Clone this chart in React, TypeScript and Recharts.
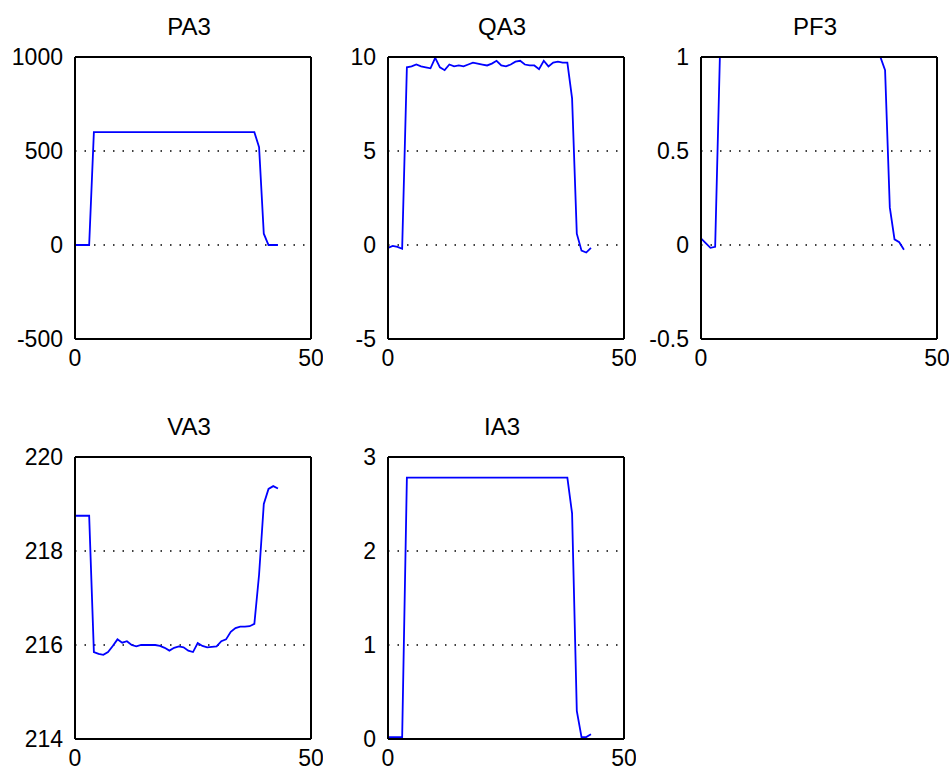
import { LineChart, Line, XAxis, YAxis, CartesianGrid } from 'recharts';

// sample times (s)
const times = [
  0, 1, 2, 3, 4, 5, 6, 7, 8, 9, 10, 11, 12, 13, 14, 15, 16, 17, 18, 19, 20, 21,
  22, 23, 24, 25, 26, 27, 28, 29, 30, 31, 32, 33, 34, 35, 36, 37, 38, 39, 40, 41, 42, 43,
];

const pa3 = [
  0, 0, 0, 0, 600, 600, 600, 600, 600, 600,
  600, 600, 600, 600, 600, 600, 600, 600, 600, 600,
  600, 600, 600, 600, 600, 600, 600, 600, 600, 600,
  600, 600, 600, 600, 600, 600, 600, 600, 600,
  520, 60, 0, 0, 0,
];

const qa3 = [
  -0.15, -0.05, -0.1, -0.2, 9.45, 9.5, 9.6, 9.5, 9.45, 9.4,
  9.95, 9.45, 9.3, 9.6, 9.5, 9.55, 9.5, 9.6, 9.7, 9.65,
  9.6, 9.55, 9.65, 9.8, 9.55, 9.5, 9.6, 9.75, 9.8, 9.6,
  9.55, 9.55, 9.35, 9.8, 9.5, 9.7, 9.75, 9.7, 9.7,
  7.8, 0.6, -0.3, -0.4, -0.15,
];

const pf3 = [
  0.035, 0.01, -0.015, -0.01, 0.9999, 0.9999, 0.9999, 0.9999, 0.9999, 0.9999,
  0.9999, 0.9999, 0.9999, 0.9999, 0.9999, 0.9999, 0.9999, 0.9999, 0.9999, 0.9999,
  0.9999, 0.9999, 0.9999, 0.9999, 0.9999, 0.9999, 0.9999, 0.9999, 0.9999, 0.9999,
  0.9999, 0.9999, 0.9999, 0.9999, 0.9999, 0.9999, 0.9999, 0.9999, 0.9999,
  0.93, 0.2, 0.03, 0.015, -0.025,
];

const va3 = [
  218.75, 218.75, 218.75, 218.75, 215.85, 215.81, 215.79, 215.85, 215.98, 216.12,
  216.05, 216.08, 216.0, 215.97, 216.0, 216.0, 216.0, 216.0, 215.98, 215.94,
  215.88, 215.94, 215.97, 215.95, 215.88, 215.85, 216.04, 215.98, 215.95, 215.96,
  215.97, 216.08, 216.12, 216.28, 216.36, 216.39, 216.39, 216.4, 216.45,
  217.5, 219.0, 219.32, 219.38, 219.33,
];

const ia3 = [
  0.02, 0.02, 0.02, 0.02, 2.78, 2.78, 2.78, 2.78, 2.78, 2.78,
  2.78, 2.78, 2.78, 2.78, 2.78, 2.78, 2.78, 2.78, 2.78, 2.78,
  2.78, 2.78, 2.78, 2.78, 2.78, 2.78, 2.78, 2.78, 2.78, 2.78,
  2.78, 2.78, 2.78, 2.78, 2.78, 2.78, 2.78, 2.78, 2.78,
  2.4, 0.3, 0.02, 0.02, 0.05,
];

const xTicks = [0, 50];

const panels = [
  { title: 'PA3', values: pa3, ticks: [-500, 0, 500, 1000], col: 0, row: 0 },
  { title: 'QA3', values: qa3, ticks: [-5, 0, 5, 10], col: 1, row: 0 },
  { title: 'PF3', values: pf3, ticks: [-0.5, 0, 0.5, 1], col: 2, row: 0 },
  { title: 'VA3', values: va3, ticks: [214, 216, 218, 220], col: 0, row: 1 },
  { title: 'IA3', values: ia3, ticks: [0, 1, 2, 3], col: 1, row: 1 },
];

const W = 323;
const H = 390;
// top/right axes take 1px each, so the plot box still sits at 75..311 x 57..339
const MARGIN = { top: 56, right: 11, bottom: 16, left: 0 };
const Y_W = 75;
const FONT = '"Liberation Sans", Arial, sans-serif';
const tickStyle = { fill: '#000', fontSize: 23, fontFamily: FONT };
const boxLine = { stroke: '#000', strokeWidth: 2 };

function Panel({ title, values, ticks }: { title: string; values: number[]; ticks: number[] }) {
  const data = times.map((t, i) => ({ t, v: values[i] }));
  const domain: [number, number] = [ticks[0], ticks[ticks.length - 1]];
  return (
    <div style={{ position: 'relative', width: W, height: H }}>
      <div
        style={{
          position: 'absolute',
          top: 15,
          left: Y_W,
          width: 236,
          paddingRight: 8,
          boxSizing: 'border-box',
          textAlign: 'center',
          fontSize: 24,
          lineHeight: '24px',
          fontFamily: FONT,
          color: '#000',
        }}
      >
        {title}
      </div>
      <LineChart width={W} height={H} data={data} margin={MARGIN}>
        <CartesianGrid vertical={false} stroke="#000" strokeWidth={1.5} strokeDasharray="1.5 8" />
        <Line
          type="linear"
          dataKey="v"
          stroke="#0000ff"
          strokeWidth={1.8}
          dot={false}
          activeDot={false}
          isAnimationActive={false}
        />
        <XAxis
          dataKey="t"
          type="number"
          domain={[0, 50]}
          ticks={xTicks}
          interval={0}
          height={35}
          tickSize={0}
          tickMargin={11}
          tickLine={false}
          axisLine={boxLine}
          tick={tickStyle}
        />
        <XAxis
          xAxisId="top"
          orientation="top"
          type="number"
          domain={[0, 50]}
          height={1}
          tick={false}
          tickLine={false}
          axisLine={boxLine}
        />
        <YAxis
          type="number"
          domain={domain}
          ticks={ticks}
          interval={0}
          width={Y_W}
          tickSize={0}
          tickMargin={12}
          tickLine={false}
          axisLine={boxLine}
          tick={tickStyle}
        />
        <YAxis
          yAxisId="right"
          orientation="right"
          type="number"
          domain={domain}
          width={1}
          tick={false}
          tickLine={false}
          axisLine={boxLine}
        />
      </LineChart>
    </div>
  );
}

export default function App() {
  return (
    <div style={{ position: 'absolute', left: 0, top: 0, width: 949, height: 774, background: '#fff' }}>
      {panels.map(p => (
        <div key={p.title} style={{ position: 'absolute', left: p.col * 313, top: p.row * 400 }}>
          <Panel title={p.title} values={p.values} ticks={p.ticks} />
        </div>
      ))}
    </div>
  );
}
